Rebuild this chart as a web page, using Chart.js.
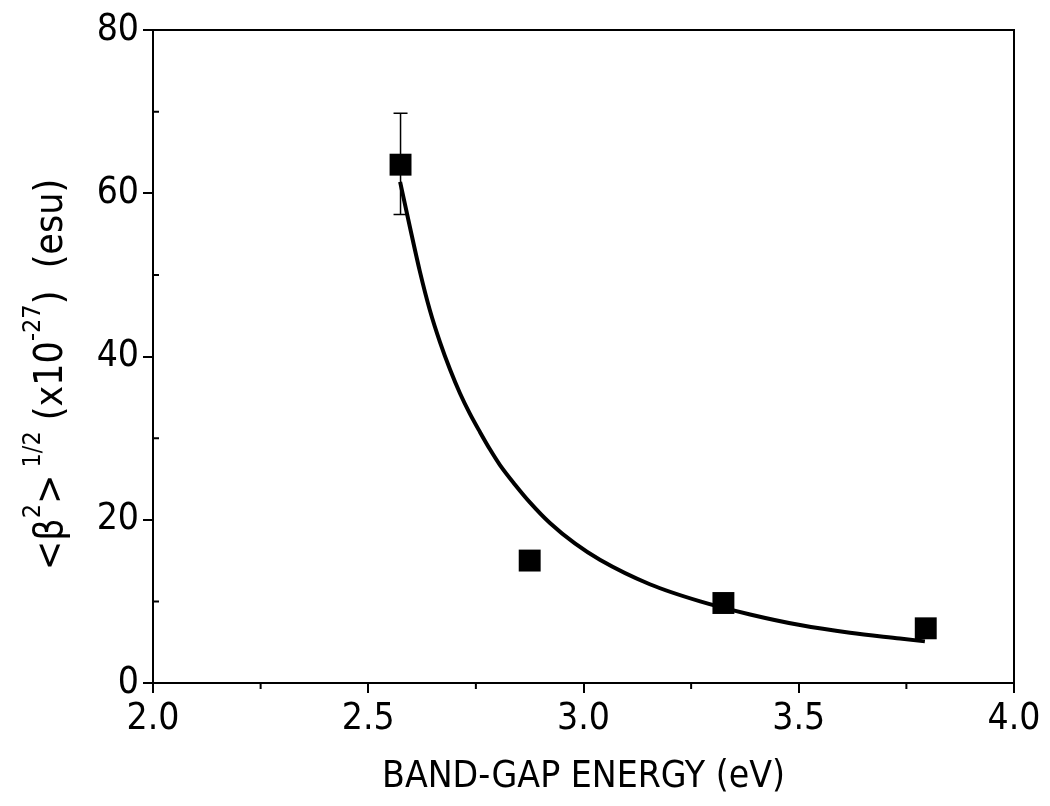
<!DOCTYPE html>
<html>
<head>
<meta charset="utf-8">
<script src="https://cdn.jsdelivr.net/npm/chart.js@4"></script>
<style>
  html, body { margin: 0; padding: 0; background: #fff; }
  #wrap { width: 1050px; height: 806px; }
</style>
</head>
<body>
<div id="wrap"><canvas id="chart" width="1050" height="806"></canvas></div>
<script>
// measured points (band-gap energy vs beta)
const energy = [2.575, 2.875, 3.325, 3.795];
const beta = [63.5, 15.0, 9.8, 6.7];
// error bar only on the first point
const errHigh = [69.8, null, null, null];
const errLow = [57.4, null, null, null];

// fitted curve
const fitX = [2.574, 2.597, 2.620, 2.643, 2.667, 2.690, 2.713, 2.736, 2.760, 2.783, 2.806, 2.841, 2.876, 2.922, 2.980, 3.038, 3.154, 3.271, 3.387, 3.503, 3.619, 3.735, 3.793];
const fitY = [61.4, 55.8, 50.4, 45.7, 41.7, 38.4, 35.5, 33.0, 30.7, 28.6, 26.7, 24.3, 22.1, 19.6, 17.1, 15.1, 12.1, 10.0, 8.4, 7.1, 6.15, 5.45, 5.1];

// axis ticks
const xMajor = [2.0, 2.5, 3.0, 3.5, 4.0];
const xMinor = [2.25, 2.75, 3.25, 3.75];
const yMajor = [0, 20, 40, 60, 80];
const yMinor = [10, 30, 50, 70];

const FONT = "'Liberation Sans Narrow', 'DejaVu Sans Condensed', Arial, sans-serif";

// frame, minor ticks, error bars and axis titles
const extras = {
  id: "extras",
  afterDatasetsDraw(chart) {
    const ctx = chart.ctx;
    const a = chart.chartArea;
    const xs = chart.scales.x;
    const ys = chart.scales.y;
    ctx.save();
    ctx.strokeStyle = "#000";

    // box frame
    ctx.lineWidth = 2;
    ctx.strokeRect(a.left, a.top, a.right - a.left, a.bottom - a.top);

    // minor ticks
    ctx.lineWidth = 2;
    ctx.beginPath();
    xMinor.forEach(v => {
      const px = xs.getPixelForValue(v);
      ctx.moveTo(px, a.bottom);
      ctx.lineTo(px, a.bottom + 6);
    });
    yMinor.forEach(v => {
      const py = ys.getPixelForValue(v);
      ctx.moveTo(a.left, py);
      ctx.lineTo(a.left + 6, py);
    });
    ctx.stroke();

    // error bars
    ctx.lineWidth = 1.5;
    ctx.beginPath();
    energy.forEach((e, i) => {
      if (errHigh[i] == null) return;
      const px = xs.getPixelForValue(e);
      const top = ys.getPixelForValue(errHigh[i]);
      const bot = ys.getPixelForValue(errLow[i]);
      ctx.moveTo(px, top);
      ctx.lineTo(px, bot);
      ctx.moveTo(px - 7, top);
      ctx.lineTo(px + 7, top);
      ctx.moveTo(px - 7, bot);
      ctx.lineTo(px + 7, bot);
    });
    ctx.stroke();

    // x title
    ctx.fillStyle = "#000";
    ctx.font = "37px " + FONT;
    ctx.textAlign = "center";
    ctx.textBaseline = "alphabetic";
    ctx.fillText("BAND-GAP ENERGY (eV)", (a.left + a.right) / 2, a.bottom + 104);

    // y title with superscripts, rotated
    const parts = [
      ["<\u03B2", false],
      ["2", true],
      [">", false],
      [" 1/2", true],
      [" (x10", false],
      ["-27", true],
      [")  (esu)", false]
    ];
    const big = "39px " + FONT;
    const small = "25px " + FONT;
    let total = 0;
    parts.forEach(p => {
      ctx.font = p[1] ? small : big;
      total += ctx.measureText(p[0]).width;
    });
    ctx.translate(62, (a.top + a.bottom) / 2 + 18);
    ctx.rotate(-Math.PI / 2);
    ctx.textAlign = "left";
    let cx = -total / 2;
    parts.forEach(p => {
      ctx.font = p[1] ? small : big;
      ctx.fillText(p[0], cx, p[1] ? -22 : 0);
      cx += ctx.measureText(p[0]).width;
    });
    ctx.restore();
  }
};

const ctx = document.getElementById("chart").getContext("2d");
new Chart(ctx, {
  type: "scatter",
  data: {
    datasets: [
      {
        label: "fit",
        data: fitX.map((x, i) => ({ x: x, y: fitY[i] })),
        showLine: true,
        borderColor: "#000",
        borderWidth: 4,
        pointRadius: 0,
        cubicInterpolationMode: "monotone",
        fill: false
      },
      {
        label: "data",
        data: energy.map((x, i) => ({ x: x, y: beta[i] })),
        pointStyle: "rect",
        pointRadius: 15.5,
        backgroundColor: "#000",
        borderColor: "#000",
        borderWidth: 0
      }
    ]
  },
  options: {
    responsive: false,
    animation: false,
    layout: { padding: { left: 0, right: 36, top: 30, bottom: 0 } },
    plugins: {
      legend: { display: false },
      tooltip: { enabled: false }
    },
    scales: {
      x: {
        type: "linear",
        min: 2.0,
        max: 4.0,
        afterBuildTicks: s => { s.ticks = xMajor.map(v => ({ value: v })); },
        afterFit: s => { s.height = 123; },
        ticks: {
          color: "#000",
          font: { family: FONT, size: 37 },
          padding: 4,
          maxRotation: 0,
          callback: v => v.toFixed(1)
        },
        grid: { display: true, drawOnChartArea: false, drawTicks: true, tickLength: 10, color: "#000", lineWidth: 2 },
        border: { display: true, color: "#000", width: 2 }
      },
      y: {
        type: "linear",
        min: 0,
        max: 80,
        afterBuildTicks: s => { s.ticks = yMajor.map(v => ({ value: v })); },
        afterFit: s => { s.width = 153; },
        ticks: {
          color: "#000",
          font: { family: FONT, size: 37 },
          padding: 4,
          callback: v => String(v)
        },
        grid: { display: true, drawOnChartArea: false, drawTicks: true, tickLength: 10, color: "#000", lineWidth: 2 },
        border: { display: true, color: "#000", width: 2 }
      }
    }
  },
  plugins: [extras]
});
</script>
</body>
</html>
